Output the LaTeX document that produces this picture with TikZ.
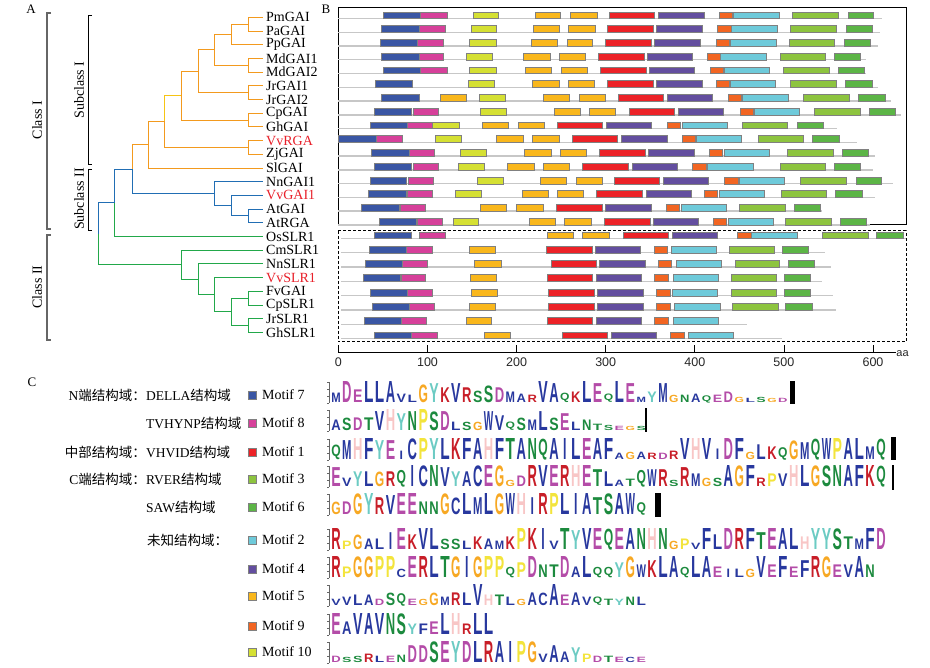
\documentclass[tikz,border=0pt]{standalone}
\usepackage{fontspec}
\usepackage{graphicx}
\setmainfont{Liberation Serif}
\newfontfamily\cjk{Noto Sans CJK SC}
\newfontfamily\sansfont{Liberation Sans}

% tree colours
\definecolor{treeorange}{RGB}{243,154,30}
\definecolor{treeamber}{RGB}{246,196,20}
\definecolor{treeblue}{RGB}{33,110,180}
\definecolor{treegreen}{RGB}{34,168,74}
\definecolor{vvred}{RGB}{232,32,42}
% motif colours
\definecolor{mc1}{RGB}{236,34,39}
\definecolor{mc2}{RGB}{110,202,218}
\definecolor{mc3}{RGB}{141,196,63}
\definecolor{mc4}{RGB}{99,78,159}
\definecolor{mc5}{RGB}{249,183,28}
\definecolor{mc6}{RGB}{92,181,70}
\definecolor{mc7}{RGB}{58,86,164}
\definecolor{mc8}{RGB}{214,64,154}
\definecolor{mc9}{RGB}{242,101,34}
\definecolor{mc10}{RGB}{213,224,51}
% logo letter colours
\definecolor{aablue}{RGB}{40,56,158}
\definecolor{aagreen}{RGB}{28,138,62}
\definecolor{aamag}{RGB}{180,76,168}
\definecolor{aared}{RGB}{200,30,40}
\definecolor{aapink}{RGB}{248,198,198}
\definecolor{aaorange}{RGB}{247,168,35}
\definecolor{aayellow}{RGB}{243,228,60}
\definecolor{aateal}{RGB}{108,203,195}
\colorlet{lgA}{aablue}\colorlet{lgC}{aablue}\colorlet{lgF}{aablue}
\colorlet{lgI}{aablue}\colorlet{lgL}{aablue}\colorlet{lgM}{aablue}
\colorlet{lgV}{aablue}\colorlet{lgW}{aablue}
\colorlet{lgN}{aagreen}\colorlet{lgQ}{aagreen}\colorlet{lgS}{aagreen}\colorlet{lgT}{aagreen}
\colorlet{lgD}{aamag}\colorlet{lgE}{aamag}
\colorlet{lgK}{aared}\colorlet{lgR}{aared}
\colorlet{lgH}{aapink}\colorlet{lgG}{aaorange}\colorlet{lgP}{aayellow}\colorlet{lgY}{aateal}

% one row of motif boxes: centre y, line start, line end, motif/start/end list
\newcommand\motifrow[4]{%
  \draw[backbone] (#2,#1+3.2) -- (#3,#1+3.2);
  \foreach \m/\a/\b in {#4} \draw[motifbox, fill=mc\m] (\a,#1-3.4) rectangle (\b,#1+3.4);}

% one sequence logo: baseline y, tag, letter/height list
\def\narrowI{I}
\newcommand\logorow[3]{%
  \draw[logoaxis] (329,#1) -- (329,#1-21);
  \foreach \t in {0,7,14,21} \draw[logoaxis] (327,#1-\t) -- (329,#1-\t);
  \foreach \l/\h [count=\i] in {#3} {
    \pgfmathsetmacro\lx{336+10.9*(\i-1)}
    \pgfmathsetmacro\lh{21*\h}
    \ifx\l\narrowI\def\lw{3.4pt}\else\def\lw{9.4pt}\fi
    \node[logoletter, text=lg\l] (#2\i) at (\lx,#1) {\resizebox*{\lw}{\lh pt}{\sansfont\bfseries\l}};
  }}

\begin{document}
\begin{tikzpicture}[x=1pt, y=-1pt,
    leaf/.style={anchor=west, inner xsep=3pt, inner ysep=0pt, font=\fontsize{14}{14}\selectfont},
    redleaf/.style={leaf, text=vvred},
    orng/.style={draw=treeorange, line width=0.9pt},
    blu/.style={draw=treeblue, line width=0.9pt},
    grn/.style={draw=treegreen, line width=0.9pt},
    classbr/.style={draw=black!60, line width=1.3pt},
    subbr/.style={draw=black, line width=0.9pt},
    brlabel/.style={rotate=90, font=\fontsize{14}{14}\selectfont},
    panel/.style={font=\fontsize{13}{13}\selectfont},
    backbone/.style={draw=black!22, line width=1.4pt},
    motifbox/.style={draw=black!50, line width=0.6pt},
    tick/.style={font=\sansfont\fontsize{12.5}{12.5}\selectfont, text=black!85},
    ctext/.style={font=\fontsize{13.5}{13.5}\selectfont, inner sep=0pt},
    legbox/.style={draw=black!50, line width=0.6pt, minimum size=8pt, inner sep=0pt},
    legtext/.style={anchor=west, font=\fontsize{14}{14}\selectfont, inner sep=0pt},
    logoaxis/.style={draw=black!60, line width=0.4pt},
    logoletter/.style={anchor=south, inner sep=0pt}]
\useasboundingbox (0,0) rectangle (930,668);

% panel letters
\node[panel] (pa) at (31,9) {A};
\node[panel] (pb) at (326,9) {B};
\node[panel] (pc) at (32,382) {C};

% ---------- A: tree ----------
\node[leaf] (pmgai) at (263,17.3) {PmGAI};
\node[leaf] (pagai) at (263,31.0) {PaGAI};
\node[leaf] (ppgai) at (263,44.7) {PpGAI};
\node[leaf] (mdgai1) at (263,58.4) {MdGAI1};
\node[leaf] (mdgai2) at (263,72.1) {MdGAI2};
\node[leaf] (jrgai1) at (263,85.8) {JrGAI1};
\node[leaf] (jrgai2) at (263,99.5) {JrGAI2};
\node[leaf] (cpgai) at (263,113.2) {CpGAI};
\node[leaf] (ghgai) at (263,126.9) {GhGAI};
\node[redleaf] (vvrga) at (263,140.6) {VvRGA};
\node[leaf] (zjgai) at (263,154.3) {ZjGAI};
\node[leaf] (slgai) at (263,168.0) {SlGAI};
\node[leaf] (nngai1) at (263,181.7) {NnGAI1};
\node[redleaf] (vvgai1) at (263,195.4) {VvGAI1};
\node[leaf] (atgai) at (263,209.1) {AtGAI};
\node[leaf] (atrga) at (263,222.8) {AtRGA};
\node[leaf] (osslr1) at (263,236.5) {OsSLR1};
\node[leaf] (cmslr1) at (263,250.2) {CmSLR1};
\node[leaf] (nnslr1) at (263,263.9) {NnSLR1};
\node[redleaf] (vvslr1) at (263,277.6) {VvSLR1};
\node[leaf] (fvgai) at (263,291.3) {FvGAI};
\node[leaf] (cpslr1) at (263,305.0) {CpSLR1};
\node[leaf] (jrslr1) at (263,318.7) {JrSLR1};
\node[leaf] (ghslr1) at (263,332.4) {GhSLR1};

\coordinate (a1) at (248,24.15);
\coordinate (a2) at (231,34.4);
\coordinate (a3) at (248,65.25);
\coordinate (a4) at (214,49.8);
\coordinate (a5) at (248,92.65);
\coordinate (a6) at (198,71.2);
\coordinate (a7) at (248,120.05);
\coordinate (a8) at (181,95.6);
\coordinate (a9) at (248,147.45);
\coordinate (a10) at (164,121.5);
\coordinate (a11) at (148,144.8);
\coordinate (b1) at (248,215.95);
\coordinate (b2) at (231,205.7);
\coordinate (b3) at (214,193.7);
\coordinate (c1) at (132,169.25);
\coordinate (c2) at (114,202.9);
\coordinate (g1) at (248,298.15);
\coordinate (g2) at (248,325.55);
\coordinate (g3) at (231,311.85);
\coordinate (g4) at (214,294.7);
\coordinate (g5) at (198,279.3);
\coordinate (g6) at (181,264.75);
\coordinate (root) at (98,233.8);

\draw[orng] (a1) |- (pmgai.west);
\draw[orng] (a1) |- (pagai.west);
\draw[orng] (a2) |- (a1);
\draw[orng] (a2) |- (ppgai.west);
\draw[orng] (a3) |- (mdgai1.west);
\draw[orng] (a3) |- (mdgai2.west);
\draw[orng] (a4) |- (a2);
\draw[orng] (a4) |- (a3);
\draw[orng] (a5) |- (jrgai1.west);
\draw[orng] (a5) |- (jrgai2.west);
\draw[orng] (a6) |- (a4);
\draw[orng] (a6) |- (a5);
\draw[orng] (a7) |- (cpgai.west);
\draw[orng] (a7) |- (ghgai.west);
\draw[orng] (a8) |- (a6);
\draw[orng] (a8) |- (a7);
\draw[orng] (a9) |- (vvrga.west);
\draw[orng] (a9) |- (zjgai.west);
\draw[orng, draw=treeamber] (a10) |- (a8);
\draw[orng] (a10) |- (a9);
\draw[orng] (a11) |- (a10);
\draw[orng] (a11) |- (slgai.west);
\draw[orng] (c1) |- (a11);

\draw[blu] (b1) |- (atgai.west);
\draw[blu] (b1) |- (atrga.west);
\draw[blu] (b2) |- (vvgai1.west);
\draw[blu] (b2) |- (b1);
\draw[blu] (b3) |- (nngai1.west);
\draw[blu] (b3) |- (b2);
\draw[blu] (c1) |- (b3);
\draw[blu] (c2) |- (c1);
\draw[blu] (root) |- (c2);

\draw[grn] (c2) |- (osslr1.west);
\draw[grn] (g1) |- (fvgai.west);
\draw[grn] (g1) |- (cpslr1.west);
\draw[grn] (g2) |- (jrslr1.west);
\draw[grn] (g2) |- (ghslr1.west);
\draw[grn] (g3) |- (g1);
\draw[grn] (g3) |- (g2);
\draw[grn] (g4) |- (vvslr1.west);
\draw[grn] (g4) |- (g3);
\draw[grn] (g5) |- (nnslr1.west);
\draw[grn] (g5) |- (g4);
\draw[grn] (g6) |- (cmslr1.west);
\draw[grn] (g6) |- (g5);
\draw[grn] (root) |- (g6);

% class brackets
\draw[classbr] (51,13) -- (47,13) -- (47,229) -- (51,229);
\draw[classbr] (51,235) -- (47,235) -- (47,340) -- (51,340);
\draw[subbr] (92,15) -- (88,15) -- (88,164) -- (92,164);
\draw[subbr] (92,169) -- (88,169) -- (88,230) -- (92,230);
\node[brlabel] (cls1) at (37,120) {Class I};
\node[brlabel] (cls2) at (37,287) {Class II};
\node[brlabel] (sub1) at (79,90) {Subclass I};
\node[brlabel] (sub2) at (79,199) {Subclass II};

% ---------- B: motif map ----------
\draw[line width=1pt] (338,8) rectangle (906,225);
\draw[line width=1pt, densely dashed] (338,231) rectangle (906,342);

\begin{scope}[xshift=330pt, x=0.383pt]
\motifrow{15.3}{22}{1440}{7/140/237, 8/237/305, 10/373/440, 5/535/602, 5/627/697, 1/730/847, 4/858/976, 9/1017/1050, 2/1053/1172, 3/1208/1327, 6/1352/1418}
\motifrow{29.06}{22}{1437}{7/135/233, 8/233/300, 10/369/435, 5/530/598, 5/622/692, 1/725/843, 4/853/971, 9/1012/1047, 2/1048/1167, 3/1203/1322, 6/1347/1415}
\motifrow{42.82}{22}{1432}{7/131/229, 8/229/295, 10/363/433, 5/525/593, 5/619/686, 1/719/838, 4/848/966, 9/1008/1042, 2/1044/1164, 3/1199/1318, 6/1342/1410}
\motifrow{56.58}{22}{1400}{7/133/232, 8/232/297, 10/355/425, 5/505/575, 5/598/667, 1/701/820, 4/829/947, 9/984/1018, 2/1020/1138, 3/1175/1293, 6/1318/1385}
\motifrow{70.34}{22}{1400}{7/140/237, 8/237/305, 10/363/433, 5/511/579, 5/604/673, 1/706/825, 4/834/952, 9/993/1028, 2/1030/1148, 3/1184/1303, 6/1327/1395}
\motifrow{84.1}{22}{1432}{7/119/216, 10/361/430, 5/529/598, 5/622/691, 1/725/843, 4/853/971, 9/1008/1042, 2/1044/1163, 3/1203/1321, 6/1346/1415}
\motifrow{97.86}{22}{1465}{7/134/232, 5/287/357, 10/389/458, 5/558/626, 5/651/718, 1/753/870, 4/881/999, 9/1041/1075, 2/1077/1196, 3/1237/1355, 6/1379/1449}
\motifrow{111.62}{22}{1490}{7/116/213, 8/217/283, 10/392/461, 5/585/653, 5/677/745, 1/781/900, 4/909/1028, 9/1070/1105, 2/1107/1225, 3/1265/1384, 6/1407/1476}
\motifrow{125.38}{22}{1325}{7/104/202, 8/202/268, 10/268/338, 5/397/466, 5/492/560, 1/593/712, 4/721/840, 9/881/915, 2/920/1037, 3/1077/1195, 6/1220/1287}
\motifrow{139.14}{22}{1375}{7/22/120, 8/122/189, 10/275/344, 5/434/505, 5/529/598, 1/632/751, 4/760/880, 9/920/954, 2/957/1075, 3/1118/1237, 6/1260/1329}
\motifrow{152.9}{22}{1423}{7/109/207, 8/207/273, 10/340/408, 5/508/577, 5/600/670, 1/703/822, 4/831/950, 9/990/1025, 2/1029/1146, 3/1194/1313, 6/1337/1405}
\motifrow{166.66}{22}{1418}{7/116/213, 8/217/283, 10/335/404, 5/463/534, 5/558/626, 1/660/778, 4/789/907, 9/947/983, 2/985/1104, 3/1175/1293, 6/1317/1385}
\motifrow{180.42}{22}{1470}{7/105/200, 8/205/270, 10/385/453, 5/550/618, 5/642/710, 1/743/860, 4/870/988, 9/1030/1065, 2/1068/1187, 3/1228/1347, 6/1373/1440}
\motifrow{194.18}{22}{1423}{7/101/198, 8/201/266, 10/326/394, 5/502/569, 5/594/662, 1/696/815, 4/825/943, 9/978/1012, 2/1017/1134, 3/1179/1297, 6/1320/1389}
\motifrow{207.94}{22}{1285}{7/83/180, 8/183/250, 5/393/461, 5/487/557, 1/591/710, 4/719/838, 9/879/913, 2/918/1035, 3/1069/1188, 6/1211/1280}
\motifrow{221.7}{22}{1410}{7/128/225, 8/227/293, 10/321/388, 5/520/589, 5/612/681, 1/716/835, 4/843/961, 9/1001/1036, 2/1040/1158, 3/1189/1308, 6/1332/1400}
% class II
\motifrow{235.3}{30}{1505}{7/115/212, 8/234/300, 5/567/634, 5/659/728, 1/766/883, 4/893/1010, 9/1063/1099, 2/1101/1219, 3/1286/1405, 6/1427/1496}
\motifrow{249.6}{30}{1293}{7/102/200, 8/200/266, 5/364/432, 1/565/684, 4/692/810, 9/846/880, 2/890/1008, 3/1042/1160, 6/1181/1250}
\motifrow{263.9}{30}{1307}{7/91/189, 8/189/255, 5/378/446, 1/577/695, 4/704/822, 9/858/892, 2/904/1022, 3/1057/1174, 6/1196/1264}
\motifrow{278.2}{30}{1285}{7/87/184, 8/185/250, 5/366/435, 1/567/686, 4/695/813, 9/847/882, 2/896/1013, 3/1047/1165, 6/1186/1253}
\motifrow{292.5}{30}{1313}{7/105/202, 8/203/268, 5/369/437, 1/571/690, 4/698/817, 9/853/888, 2/894/1011, 3/1047/1165, 6/1186/1254}
\motifrow{306.8}{30}{1320}{7/111/207, 8/207/273, 5/364/432, 1/571/690, 4/698/817, 9/853/888, 2/900/1018, 3/1051/1170, 6/1189/1259}
\motifrow{321.1}{30}{1088}{7/89/187, 8/187/252, 5/356/422, 1/567/686, 4/695/812, 9/847/882, 2/896/1013}
\motifrow{335.4}{30}{1180}{7/115/212, 8/212/279, 5/402/470, 1/607/725, 4/735/853, 9/889/924, 2/935/1052}
\end{scope}

% length axis
\draw[line width=0.8pt] (338.4,352) -- (896,352);
\foreach \v in {0,100,...,600} {
  \draw[line width=0.8pt] (338.4+0.891*\v,352) -- (338.4+0.891*\v,345);
  \node[tick] (t\v) at (338.4+0.891*\v,362.5) {\v};
}
\node[tick, font=\sansfont\fontsize{11}{11}\selectfont] (aa) at (902.5,353.5) {aa};

% ---------- C: domains and logos ----------
\node[ctext, anchor=east] (nterm) at (146,395) {N{\cjk 端结构域：}};
\node[ctext, anchor=west] (della) at (146,395) {DELLA{\cjk 结构域}};
\node[ctext, anchor=west] (tvhynp) at (146,423) {TVHYNP{\cjk 结构域}};
\node[ctext, anchor=east] (mid) at (146,452) {{\cjk 中部结构域：}};
\node[ctext, anchor=west] (vhvid) at (146,452) {VHVID{\cjk 结构域}};
\node[ctext, anchor=east] (cterm) at (146,479) {C{\cjk 端结构域：}};
\node[ctext, anchor=west] (rver) at (146,479) {RVER{\cjk 结构域}};
\node[ctext, anchor=west] (saw) at (146,507) {SAW{\cjk 结构域}};
\node[ctext, anchor=west] (unknown) at (147,540) {{\cjk 未知结构域：}};

\foreach \m/\yy in {7/395, 8/423, 1/452, 3/479, 6/507, 2/540, 4/569, 5/596, 9/626, 10/652} {
  \node[legbox, fill=mc\m] (key\m) at (252,\yy) {};
  \node[legtext] (motif\m) at (262,\yy) {Motif \m};
}

\logorow{403}{ma}{M/.45, D/1, E/.6, L/1, L/1, A/1, V/.4, L/.35, G/.85, Y/.9, K/.7, V/.9, R/.7, S/.55, S/.8, D/.7, M/.5, A/.4, R/.35, V/1, A/.9, Q/.45, K/.5, L/1, E/.9, Q/.4, L/1, E/.9, M/.25, Y/.5, M/.9, G/.35, N/.35, A/.4, Q/.35, E/.35, D/.5, G/.25, L/.2, S/.25, G/.2, D/.2}
\logorow{431}{mb}{A/.5, S/.6, D/.6, T/.6, V/.9, H/1, Y/.8, N/.9, P/1, S/.9, D/.9, L/.4, S/.4, G/.4, W/.9, V/.7, Q/.4, S/.6, M/.5, L/.9, S/.6, E/.8, L/.4, N/.5, T/.3, S/.25, E/.2, G/.2, S/.2}
\logorow{460}{mc}{Q/.7, M/.9, H/1, F/1, Y/.9, E/.9, I/.4, C/1, P/1, Y/1, L/1, K/1, F/1, A/1, H/1, F/1, T/1, A/1, N/1, Q/1, A/1, I/1, L/1, E/1, A/1, F/1, A/.3, G/.35, A/.35, R/.3, D/.3, R/.4, V/1, H/1, V/1, I/.5, D/1, F/1, G/.35, L/.7, K/.6, Q/.6, G/.9, M/.8, Q/1, W/1, P/1, A/1, L/1, M/.6, Q/1}
\logorow{487}{md}{E/.9, V/.4, Y/.7, L/.7, G/.7, R/.7, Q/.8, I/1, C/1, N/1, V/.9, Y/.7, A/.7, C/1, E/1, G/1, G/.3, D/.5, R/1, V/1, E/1, R/1, H/1, E/1, T/.8, L/.7, A/.3, T/.35, Q/.8, W/.8, R/.8, S/.3, R/.9, M/.6, G/.4, S/.4, A/1, G/1, F/1, R/.4, P/.6, V/.6, H/1, L/1, G/1, S/1, N/1, A/1, F/1, K/1, Q/1}
\logorow{515}{me}{G/.6, D/.6, G/1, Y/1, R/.8, V/.9, E/1, E/1, N/.6, N/.6, G/1, C/.8, L/1, M/.8, L/1, G/1, W/1, H/1, I/.8, R/1, P/1, L/1, I/1, A/1, T/.8, S/1, A/1, W/1, Q/.6}
\logorow{550}{mf}{R/1, P/.4, G/.7, A/.5, L/.5, I/.8, E/1, K/.7, V/1, L/1, S/.5, S/.5, L/.4, K/.6, A/.5, M/.4, K/.6, P/1, K/1, I/1, V/.4, T/1, Y/.9, V/1, E/1, Q/1, E/1, A/1, N/1, H/1, N/1, G/.4, P/.5, V/.3, F/1, L/.7, D/1, R/1, F/1, T/.8, E/1, A/1, L/1, H/.6, Y/1, Y/1, S/1, T/.6, M/.5, F/1, D/1}
\logorow{578}{mg}{R/1, P/.5, G/1, G/1, P/1, P/1, C/.4, E/1, R/1, L/1, T/1, G/1, I/1, G/1, P/1, P/1, Q/.5, P/.7, D/1, N/.6, T/.6, D/1, A/.5, L/1, Q/.5, Q/.5, Y/.7, G/1, W/.6, K/.8, L/1, A/1, Q/.5, L/1, A/1, E/.5, I/.4, L/.4, G/.4, V/1, E/.6, F/1, E/.5, F/.8, R/1, G/1, E/.6, V/.6, A/1, N/.6}
\logorow{606}{mh}{V/.3, V/.4, L/.5, A/.5, D/.3, S/.6, Q/.6, E/.3, G/.3, G/.6, M/.4, R/.6, L/.6, V/1, H/.5, T/.5, L/.4, G/.3, A/.6, C/.6, A/1, E/.5, A/.6, V/.4, Q/.4, T/.3, Y/.3, N/.4, L/.4}
\logorow{635}{mi}{E/1, A/.6, V/1, A/1, V/1, N/1, S/1, Y/.5, F/.5, E/.6, L/1, H/1, R/.5, L/1, L/1}
\logorow{663}{mj}{D/.3, S/.25, S/.3, R/.4, L/.3, E/.3, N/.35, D/.8, D/.8, S/1, E/1, Y/1, D/1, L/1, R/1, A/1, I/1, P/1, G/1, V/.4, A/.8, A/.5, Y/.7, P/.4, D/.3, T/.3, E/.25, C/.25, E/.25}

% end marks of the logos
\fill (790,381) rectangle (795,404);
\fill (645,408) rectangle (646.5,432);
\fill (890.5,437) rectangle (895.5,460);
\fill (892,465) rectangle (893.5,490);
\fill (655,493) rectangle (660.5,517);
\end{tikzpicture}
\end{document}
